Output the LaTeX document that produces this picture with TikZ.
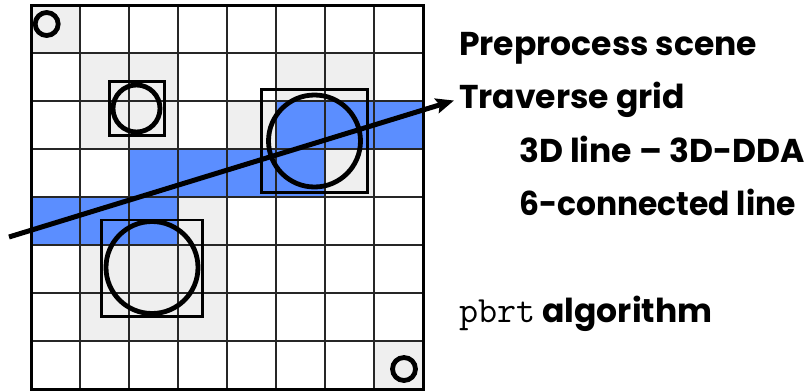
\documentclass[tikz,border=0pt]{standalone}
\usepackage{fontspec}
\usepackage{xcolor}
\usetikzlibrary{arrows.meta, positioning}
\newfontfamily\headfont{Poppins}
\definecolor{cellgray}{HTML}{EFEFEF}
\definecolor{cellblue}{HTML}{5B8EFF}

\begin{document}
\begin{tikzpicture}[
        x=1pt, y=-1pt,
        >=Stealth,
        gridline/.style={line width=1.3pt, black!85},
        bbox/.style={draw=black, line width=2.8pt},
        prim/.style={draw=black, line width=4.8pt},
        ray/.style={line width=5pt, ->, >={Stealth[length=18pt, width=15pt, inset=3pt]}},
        label_style/.style={anchor=base west, inner sep=0pt, font=\headfont\bfseries\fontsize{33}{39}\selectfont}
    ]
        \useasboundingbox (0,0) rectangle (809,391);

        % Cell size and origin of the grid
        \def\cw{49}
        \def\ch{48}
        \def\gx{31}
        \def\gy{5}

        % Cells overlapped by bounding boxes
        \foreach \c/\r in {0/0, 1/1, 2/1, 5/1, 6/1, 1/2, 2/2, 4/2, 6/3, 3/4,
                           1/5, 2/5, 3/5, 1/6, 2/6, 3/6, 7/7}
            \fill[cellgray] (\gx+\c*\cw, \gy+\r*\ch) rectangle ++(\cw, \ch);

        % Cells visited by the ray
        \foreach \c/\r in {5/2, 6/2, 7/2, 2/3, 3/3, 4/3, 5/3, 0/4, 1/4, 2/4}
            \fill[cellblue] (\gx+\c*\cw, \gy+\r*\ch) rectangle ++(\cw, \ch);

        % Grid lines
        \foreach \i in {1,...,7} {
            \draw[gridline] (\gx+\i*\cw, \gy) -- ++(0, 8*\ch);
            \draw[gridline] (\gx, \gy+\i*\ch) -- ++(8*\cw, 0);
        }
        \draw[line width=3pt] (\gx, \gy) rectangle ++(8*\cw, 8*\ch);

        % Bounding boxes
        \draw[bbox] (109.3, 81.3) rectangle (164.7, 135.7);
        \draw[bbox] (261.7, 89.3) rectangle (367.3, 192.7);
        \draw[bbox] (101.7, 220) rectangle (202.3, 316.3);

        % Primitives
        \draw[prim] (46.7, 24) circle (11.5);
        \draw[prim] (404, 369) circle (11.5);
        \draw[prim] (136.5, 108.5) circle (23.5);
        \draw[prim] (314.5, 141) circle (46);
        \draw[prim] (152, 267.5) circle (46);

        % Ray
        \coordinate (rayStart) at (9, 237);
        \coordinate (rayEnd) at (454, 100.5);
        \draw[ray] (rayStart) -- (rayEnd);

        % Labels
        \node[label_style] (preprocess) at (459, 55.5) {Preprocess scene};
        \node[label_style] (traverse) at (459, 108.5) {Traverse grid};
        \node[label_style] (ddaline) at (519, 162) {3D line – 3D-DDA};
        \node[label_style] (sixline) at (519, 215) {\scalebox{0.95}[1]{6-connected line}};
        \node[label_style] (pbrtalg) at (459, 322) {{\ttfamily\mdseries\fontsize{37}{39}\selectfont pbrt} algorithm};

    \end{tikzpicture}
\end{document}
